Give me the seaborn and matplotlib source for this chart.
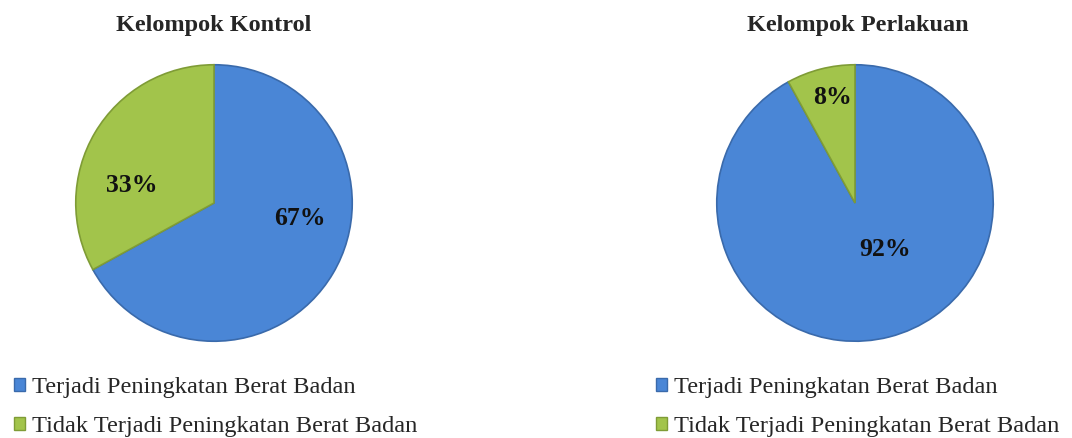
import matplotlib
matplotlib.use("Agg")
import matplotlib.pyplot as plt
from matplotlib.patches import Patch
import numpy as np
import seaborn as sns

# data
groups = ["Kelompok Kontrol", "Kelompok Perlakuan"]
categories = ["Terjadi Peningkatan Berat Badan", "Tidak Terjadi Peningkatan Berat Badan"]
kontrol = [67, 33]
perlakuan = [92, 8]

sns.set_theme(style="white")
plt.rcParams["font.family"] = ["Liberation Serif", "DejaVu Serif"]

colors = ["#4a86d6", "#a2c44b"]
edges = ["#3a6aab", "#7f9c36"]
# percent label placement (radius fraction, angle in degrees) like the excel "best fit"
label_pos = [[(0.63, -10), (0.61, 168)], [(0.40, -57), (0.78, 102)]]

fig = plt.figure(figsize=(10.72, 4.38), dpi=100)

centers_x = [214 / 1072, 855 / 1072]
title_x = [214 / 1072, 858 / 1072]
legend_x = [14 / 1072, 656 / 1072]
w, h = 282 / 1072, 282 / 438
cy = (438 - 203) / 438

for i, vals in enumerate([kontrol, perlakuan]):
    ax = fig.add_axes([centers_x[i] - w / 2, cy - h / 2, w, h])
    wedges, _ = ax.pie(vals, colors=colors, startangle=90, counterclock=False,
                       radius=1, wedgeprops=dict(linewidth=1.2))
    for wdg, ec in zip(wedges, edges):
        wdg.set_edgecolor(ec)
    for j in range(len(vals)):
        r, a = label_pos[i][j]
        ang = np.deg2rad(a)
        ax.text(r * np.cos(ang), r * np.sin(ang), f"{vals[j]}%",
                ha="center", va="center", fontsize=18.5, fontweight="bold", color="#111111")
    ax.set_xlim(-1.02, 1.02)
    ax.set_ylim(-1.02, 1.02)
    ax.set_aspect("equal")
    ax.axis("off")

    fig.text(title_x[i], (438 - 25) / 438, groups[i], ha="center", va="center",
             fontsize=17.5, fontweight="bold")

    handles = [Patch(facecolor=c, edgecolor=e, label=l) for c, e, l in zip(colors, edges, categories)]
    fig.legend(handles=handles, loc="upper left", bbox_to_anchor=(legend_x[i], (438 - 377) / 438),
               frameon=False, fontsize=17.6, handlelength=0.45, handleheight=0.45,
               handletextpad=0.28, labelspacing=0.74, borderaxespad=0, borderpad=0)

fig.savefig("out.png", dpi=100, facecolor="white")
